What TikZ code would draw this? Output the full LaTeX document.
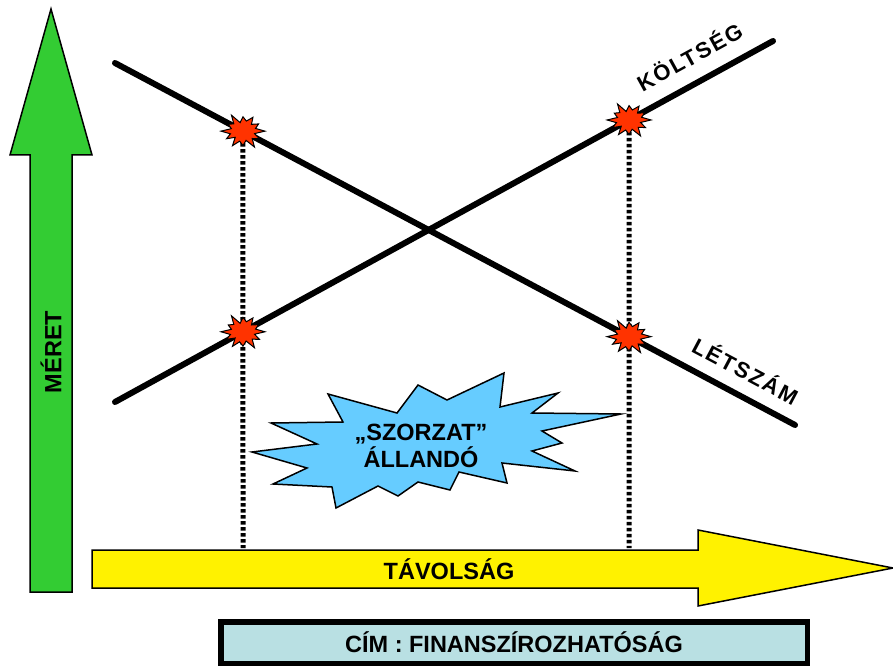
\documentclass[tikz,border=0pt]{standalone}
\usepackage{fontspec}
\setmainfont{Liberation Sans}
\newfontfamily\spaced{Liberation Sans}[LetterSpace=9]
\definecolor{arrowgreen}{HTML}{33CC33}
\definecolor{burstblue}{HTML}{66CCFF}
\definecolor{titleblue}{HTML}{B9E0E3}
\definecolor{sparkred}{HTML}{FF3300}
\tikzset{
  bigarrow/.style={draw=black,line width=1.5pt,line join=miter},
  costline/.style={line width=6pt,line cap=round},
  guide/.style={line width=5pt,dash pattern=on 3.5pt off 2.5pt},
  spark/.pic={\draw[fill=sparkred,line width=1pt,line join=miter,yscale=.8]
    (0:22) \foreach \r [count=\i] in {12,19,13,23,12,18,13,21,11,19,13,22,12,17,13,23,11,18,13,20,12,18,13}
    {--(\i*15:\r)} --cycle;},
  lbl/.style={font=\bfseries\fontsize{23.5}{27}\selectfont},
  linelbl/.style={font=\spaced\bfseries\fontsize{22}{24}\selectfont}
}
\begin{document}
\begin{tikzpicture}[x=1pt,y=-1pt]
\useasboundingbox (0,0) rectangle (893,668);
% size axis
\draw[bigarrow,fill=arrowgreen] (30,592)--(30,155)--(10,155)--(51,9)--(92,155)--(72,155)--(72,592)--cycle;
\node[lbl,rotate=90] (meret) at (51,352) {MÉRET};
% distance axis
\draw[bigarrow,fill=yellow] (92,550)--(698,550)--(698,530)--(893,568)--(698,606)--(698,588)--(92,588)--cycle;
\node[lbl] (tav) at (449,569) {TÁVOLSÁG};
% title
\node[lbl,draw,line width=5.5pt,fill=titleblue,minimum width=586.5pt,minimum height=41.5pt,inner sep=0pt] (cim) at (514,642.5) {CÍM : FINANSZÍROZHATÓSÁG};
% the two lines
\coordinate (k1) at (115,402); \coordinate (k2) at (773,41);
\coordinate (l1) at (115,63); \coordinate (l2) at (795,425);
\path (k1)--(k2) coordinate[pos=.1945] (kA) coordinate[pos=.7812] (kB);
\path (l1)--(l2) coordinate[pos=.1882] (lA) coordinate[pos=.7559] (lB);
\coordinate (fA) at (243,548); \coordinate (fB) at (629,548);
\draw[guide] (lA)--(fA);
\draw[guide] (kB)--(fB);
\draw[costline] (k1)--(k2);
\draw[costline] (l1)--(l2);
\node[linelbl,rotate=28.75] (koltseg) at (689,56) {KÖLTSÉG};
\node[linelbl,rotate=-28] (letszam) at (746,370) {LÉTSZÁM};
% marks
\pic (sA) at (lA) {spark};
\pic (sB) at (kB) {spark};
\pic (sC) at (kA) {spark};
\pic (sD) at (lB) {spark};
% constant product
\draw[fill=burstblue,line width=1.5pt,line join=miter] (252,452)--(317,444)--(271,423)--(343,422)--(328,394)--(397,413)--(418,385)--(447,400)--(504,373)--(500,407)--(558,393)--(532,413)--(621,414)--(542,431)--(562,443)--(532,451)--(575,471)--(502,463)--(507,483)--(459,472)--(450,490)--(418,482)--(398,496)--(378,486)--(336,508)--(332,487)--(273,484)--(307,468)--cycle;
\node[lbl,align=center] (szorzat) at (421,446) {„SZORZAT”\\ÁLLANDÓ};
\end{tikzpicture}
\end{document}
